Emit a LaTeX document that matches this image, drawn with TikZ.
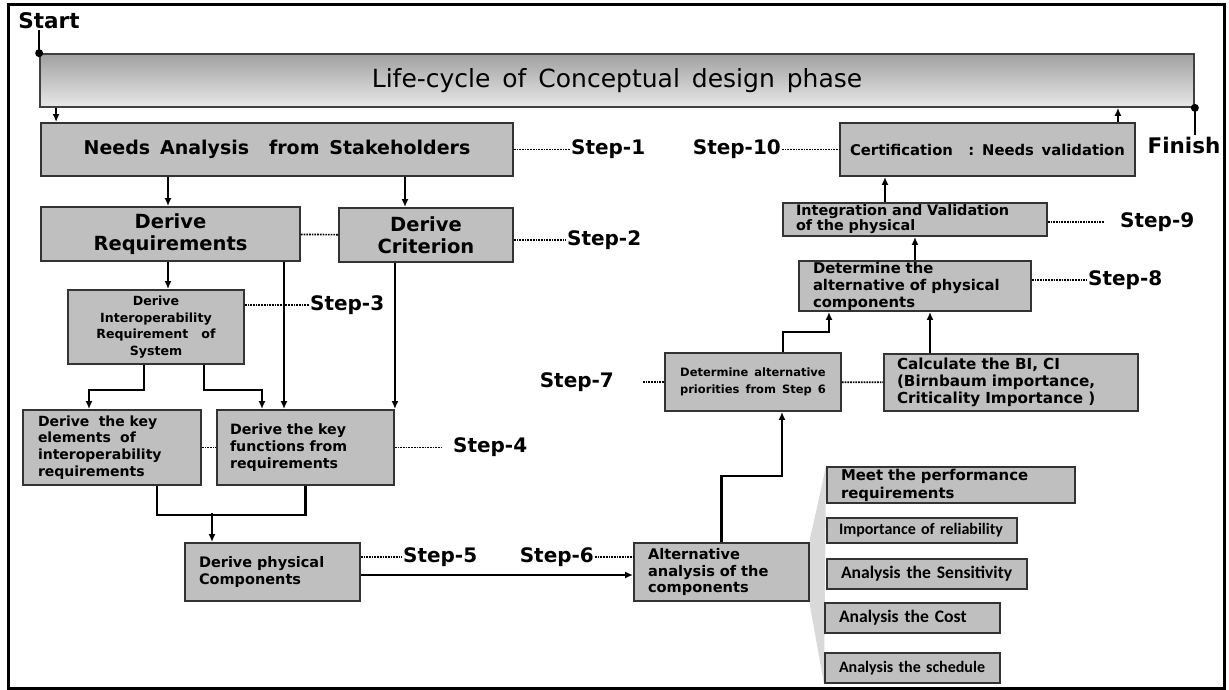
\documentclass[tikz,border=0pt]{standalone}
\usepackage{fontspec}
\setmainfont{DejaVu Sans}[WordSpace=1.5]
\newfontfamily\calfont{Carlito}
\usetikzlibrary{arrows.meta, positioning, backgrounds, calc}

\begin{document}
\begin{tikzpicture}[
  x=1pt, y=-1pt,
  font=\bfseries,
  box/.style={rectangle, draw=black!80, line width=1.9pt, fill=black!25,
              inner sep=0pt, align=center},
  lbox/.style={box, align=left},
  phasebar/.style={rectangle, draw=black!75, line width=1.7pt,
              top color=black!37, middle color=black!10, bottom color=black!9,
              font=\mdseries\fontsize{25}{28}\selectfont},
  big/.style={font=\bfseries\fontsize{19.5}{22}\selectfont},
  mid/.style={font=\bfseries\fontsize{14.8}{17}\selectfont},
  small/.style={font=\bfseries\fontsize{12.6}{16.5}\selectfont},
  steplbl/.style={font=\bfseries\fontsize{20}{22}\selectfont, inner sep=1pt},
  endlbl/.style={font=\bfseries\fontsize{21.5}{24}\selectfont, inner sep=1pt},
  arr/.style={-{Latex[length=8pt,width=7pt]}, line width=2.5pt},
  dot/.style={densely dotted, line width=1.7pt},
  fan/.style={fill=black!15},
]
  \useasboundingbox (0,0) rectangle (1229,690);
  \draw[line width=3pt] (8,5) rectangle (1224,688);

  % life-cycle bar
  \node[phasebar, minimum width=1154pt, minimum height=53pt] (phase) at (617,80.5)
    {Life-cycle of Conceptual design phase};
  \node[endlbl] (start) at (49,21) {Start};
  \node[endlbl] (finish) at (1184,145) {Finish};
  \draw[line width=2pt] (phase.north west |- start.south) -- (phase.north west);
  \fill (phase.north west) circle (4pt);
  \draw[line width=2pt] (phase.south east) -- (phase.south east |- finish.north);
  \fill (phase.south east) circle (4pt);

  % left branch
  \node[box, font=\bfseries\fontsize{19}{22}\selectfont,
        minimum width=472pt, minimum height=53pt] (needs) at (277,149.5)
    {Needs Analysis\ \ from Stakeholders};
  \node[box, big, minimum width=259pt, minimum height=54pt] (req) at (170.5,234)
    {Derive\\Requirements};
  \node[box, big, minimum width=174pt, minimum height=54pt] (crit) at (426,235)
    {Derive\\Criterion};
  \node[box, small, minimum width=176pt, minimum height=74pt] (interop) at (156,327)
    {Derive\\Interoperability\\Requirement\ \ of\\System};
  \node[lbox, font=\bfseries\fontsize{14}{16.8}\selectfont, text width=148pt,
        inner xsep=15pt, minimum height=75pt] (keyel) at (112,447.5)
    {Derive\ \ the key\\elements\ \ of\\interoperability\\requirements};
  \node[lbox, font=\bfseries\fontsize{14.2}{16.8}\selectfont, text width=151pt,
        inner xsep=13pt, minimum height=75pt] (keyfn) at (305.5,447.5)
    {Derive the key\\functions from\\requirements};
  \node[lbox, font=\bfseries\fontsize{14.5}{17}\selectfont, text width=147pt,
        inner xsep=14pt, minimum height=58pt] (phys) at (272.5,572)
    {Derive physical\\Components};

  % right branch
  \node[lbox, font=\bfseries\fontsize{14.6}{16.5}\selectfont, text width=147pt,
        inner xsep=14pt, minimum height=58pt] (alt) at (721.5,572)
    {Alternative\\analysis of the\\components};
  \node[box, font=\bfseries\fontsize{11.5}{17}\selectfont,
        minimum width=176pt, minimum height=58pt] (det7) at (753,382)
    {Determine alternative\\priorities from Step 6};
  \node[lbox, font=\bfseries\fontsize{15.2}{17}\selectfont, text width=228pt,
        inner xsep=13pt, minimum height=57pt] (calc) at (1011,382.5)
    {Calculate the BI, CI\\(Birnbaum importance,\\Criticality Importance )};
  \node[lbox, mid, text width=204pt, inner xsep=14pt, minimum height=50pt]
    (det8) at (915,286)
    {Determine the\\alternative of physical\\components};
  \node[lbox, font=\bfseries\fontsize{14.4}{15}\selectfont, text width=238pt,
        inner xsep=13pt, minimum height=33pt] (integ) at (915,219.5)
    {Integration and Validation\\of the physical};
  \node[box, mid, minimum width=295pt, minimum height=53pt] (cert) at (987.5,149.5)
    {Certification\ \ :\ Needs validation};

  % criteria of step 6
  \node[lbox, font=\bfseries\fontsize{14.9}{18}\selectfont, text width=220pt,
        inner xsep=14pt, minimum height=36pt] (meet) at (951,485)
    {Meet the performance\\requirements};
  \node[lbox, font=\calfont\bfseries\fontsize{16}{18}\selectfont, text width=166pt,
        inner xsep=12pt, minimum height=25pt] (imp) at (922,530.5)
    {Importance of reliability};
  \node[lbox, font=\calfont\bfseries\fontsize{17.6}{19}\selectfont, text width=172pt,
        inner xsep=14pt, minimum height=30pt] (sens) at (927,574)
    {Analysis the Sensitivity};
  \node[lbox, font=\calfont\bfseries\fontsize{17.6}{19}\selectfont, text width=147pt,
        inner xsep=14pt, minimum height=30pt] (cost) at (912.5,618)
    {Analysis the Cost};
  \node[lbox, font=\calfont\bfseries\fontsize{16}{18}\selectfont, text width=147pt,
        inner xsep=14pt, minimum height=30pt] (sched) at (912.5,668)
    {Analysis the schedule};

  \begin{scope}[on background layer]
    \fill[fan] ([yshift=3pt]alt.north east) -- (meet.north west)
      -- (sched.south west) -- ([yshift=-4pt]alt.south east) -- cycle;
  \end{scope}

  % step labels
  \node[steplbl, right=56pt of needs] (st1) {Step-1};
  \node[steplbl, right=52pt of crit, yshift=-5pt] (st2) {Step-2};
  \node[steplbl, right=64pt of interop, yshift=22pt] (st3) {Step-3};
  \node[steplbl, right=57pt of keyfn] (st4) {Step-4};
  \node[steplbl, right=41pt of phys, yshift=15pt] (st5) {Step-5};
  \node[steplbl, left=38pt of alt, yshift=15pt] (st6) {Step-6};
  \node[steplbl, left=49pt of det7] (st7) {Step-7};
  \node[steplbl, right=55pt of det8, yshift=6pt] (st8) {Step-8};
  \node[steplbl, right=71pt of integ, yshift=-2.5pt] (st9) {Step-9};
  \node[steplbl, left=57pt of cert] (st10) {Step-10};
  \coordinate (c4) at ([xshift=47pt]keyfn.east);
  \coordinate (c7) at ([xshift=-21pt]det7.west);
  \coordinate (c9) at ([xshift=56pt]integ.east |- st9);

  \draw[dot] (needs.east) -- (st1.west);
  \draw[dot] (req) -- (crit);
  \draw[dot] (crit.east |- st2) -- (st2.west);
  \draw[dot] (interop.east |- st3) -- (st3.west);
  \draw[dot] (keyel) -- (keyfn);
  \draw[dot] (keyfn.east) -- (c4);
  \draw[dot] (phys.east |- st5) -- (st5.west);
  \draw[dot] (st6.east) -- (st6.east -| alt.west);
  \draw[dot] (c7) -- (det7.west);
  \draw[dot] (det7) -- (calc);
  \draw[dot] (det8.east |- st8) -- (st8.west);
  \draw[dot] (integ.east |- c9) -- (c9);
  \draw[dot] (st10.east) -- (cert.west);

  % flow
  \draw[arr] ([xshift=16pt]needs.north west |- phase.south) -- ([xshift=16pt]needs.north west);
  \draw[arr] ([xshift=-18pt]cert.north east) -- ([xshift=-18pt]cert.north east |- phase.south);
  \draw[arr] ([xshift=-2.5pt]req.north |- needs.south) -- ([xshift=-2.5pt]req.north);
  \draw[arr] ([xshift=-21pt]crit.north |- needs.south) -- ([xshift=-21pt]crit.north);
  \draw[arr] ([xshift=-2.5pt]req.south) -- ([xshift=-2.5pt]req.south |- interop.north);
  \draw[arr] ([xshift=-12pt]interop.south) -- ++(0,25) -| ([xshift=-23pt]keyel.north);
  \draw[arr] ([xshift=48pt]interop.south) -- ++(0,25) -| ([xshift=-43.5pt]keyfn.north);
  \draw[arr] ([xshift=113.5pt]req.south) -- ([xshift=113.5pt]req.south |- keyfn.north);
  \draw[arr] (keyfn.north east |- crit.south) -- (keyfn.north east);
  \draw[line width=2.5pt] ([xshift=45pt]keyel.south) -- ++(0,29) -| (keyfn.south);
  \draw[arr] ([xshift=-60.5pt]phys.north) ++(0,-29) -- ([xshift=-60.5pt]phys.north);
  \draw[arr] ([yshift=-3pt]phys.east) -- ([yshift=-3pt]phys.east -| alt.west);
  \draw[arr] (alt.north) -- ++(0,-66) -| ([xshift=29pt]det7.south);
  \draw[arr] ([xshift=30pt]det7.north) -- ++(0,-20) -| ([xshift=-86pt]det8.south);
  \draw[arr] ([xshift=-81pt]calc.north) -- ([xshift=-81pt]calc.north |- det8.south);
  \draw[arr] (det8.north) -- (integ.south);
  \draw[arr] ([xshift=-30pt]integ.north) -- ([xshift=-30pt]integ.north |- cert.south);
\end{tikzpicture}
\end{document}
